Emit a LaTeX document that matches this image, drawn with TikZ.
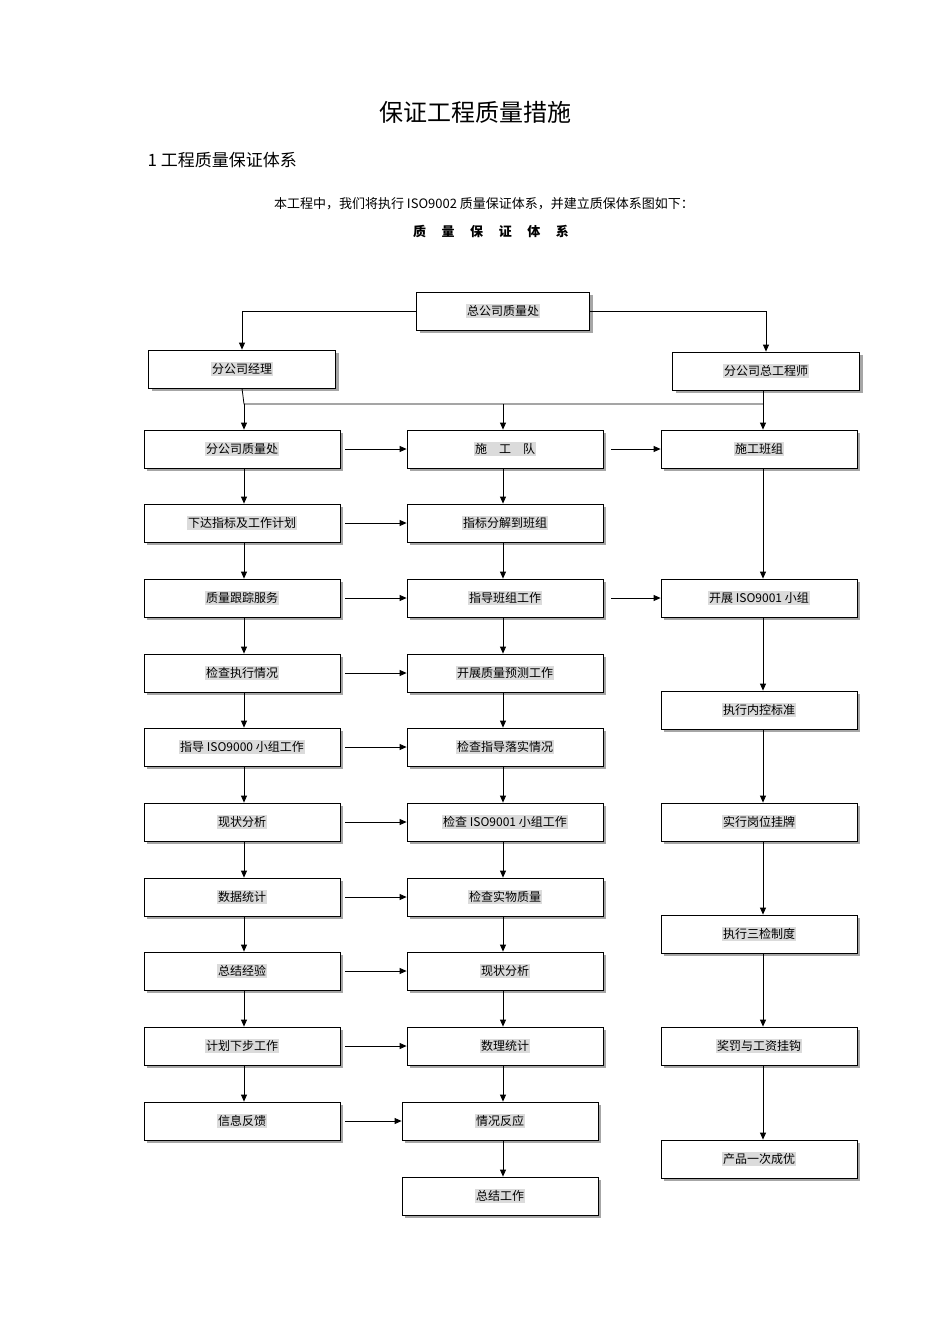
\documentclass[tikz,border=0pt]{standalone}
\usepackage{fontspec}
\setmainfont{Noto Sans CJK SC}
\usetikzlibrary{arrows.meta,shadows}
\definecolor{hl}{gray}{0.86}
\setlength{\fboxsep}{1pt}
\newcommand{\hb}[1]{\colorbox{hl}{#1}}
\begin{document}
\begin{tikzpicture}[x=1pt,y=-1pt,
  box/.style={draw,thick,fill=white,minimum height=38pt,font=\fontsize{12}{14}\selectfont,
    drop shadow={shadow xshift=3pt,shadow yshift=-3pt,fill=gray!70,opacity=1}},
  lb/.style={box,minimum width=196pt},
  ar/.style={-{Triangle[length=7pt,width=6pt]},thick}]
\useasboundingbox (0,0) rectangle (950,1344);
\node[font=\fontsize{24}{28}\selectfont] (t) at (475,112) {保证工程质量措施};
\node[font=\fontsize{17}{20}\selectfont,anchor=west] (h) at (144,160) {1 工程质量保证体系};
\node[font=\fontsize{13}{16}\selectfont] (p) at (484,204) {本工程中，我们将执行 ISO9002 质量保证体系，并建立质保体系图如下：};
\node[font=\fontsize{13}{16}\selectfont\bfseries] (s) at (491,231) {质\hspace{1.2em}量\hspace{1.2em}保\hspace{1.2em}证\hspace{1.2em}体\hspace{1.2em}系};

\node[box,minimum width=173pt] (top) at (503,311) {\hb{总公司质量处}};
\node[box,minimum width=187pt] (mgr) at (242,369) {\hb{分公司经理}};
\node[box,minimum width=187pt] (eng) at (766,371) {\hb{分公司总工程师}};

\foreach \n/\y/\t in {L1/449/分公司质量处,L2/523/下达指标及工作计划,L3/598/质量跟踪服务,L4/673/检查执行情况,L5/747/指导 ISO9000 小组工作,L6/822/现状分析,L7/897/数据统计,L8/971/总结经验,L9/1046/计划下步工作,L10/1121/信息反馈}
  \node[lb] (\n) at (242,\y) {\hb{\t}};
\foreach \n/\y/\t in {M1/449/施\quad 工\quad 队,M2/523/指标分解到班组,M3/598/指导班组工作,M4/673/开展质量预测工作,M5/747/检查指导落实情况,M6/822/检查 ISO9001 小组工作,M7/897/检查实物质量,M8/971/现状分析,M9/1046/数理统计}
  \node[lb] (\n) at (505,\y) {\hb{\t}};
\node[lb] (M10) at (500,1121) {\hb{情况反应}};
\node[lb] (M11) at (500,1196) {\hb{总结工作}};
\foreach \n/\y/\t in {R1/449/施工班组,R2/598/开展 ISO9001 小组,R3/710/执行内控标准,R4/822/实行岗位挂牌,R5/934/执行三检制度,R6/1046/奖罚与工资挂钩,R7/1159/产品一次成优}
  \node[lb] (\n) at (759,\y) {\hb{\t}};

\draw[ar] (top.west) -| (mgr.north);
\draw[ar] (top.east) -| (eng.north);
\coordinate (bl) at (244,404);
\coordinate (bm) at (503,404);
\coordinate (br) at (763,404);
\draw[thick] (mgr.south) -- (bl) -- (br);
\draw[ar] (eng.south -| br) -- (R1.north -| br);
\draw[ar] (bl) -- (L1.north -| bl);
\draw[ar] (bm) -- (M1.north -| bm);

\foreach \a/\b in {L1/L2,L2/L3,L3/L4,L4/L5,L5/L6,L6/L7,L7/L8,L8/L9,L9/L10}
  \draw[ar] (\a.south -| bl) -- (\b.north -| bl);
\foreach \a/\b in {M1/M2,M2/M3,M3/M4,M4/M5,M5/M6,M6/M7,M7/M8,M8/M9,M9/M10,M10/M11}
  \draw[ar] (\a.south -| bm) -- (\b.north -| bm);
\foreach \a/\b in {R1/R2,R2/R3,R3/R4,R4/R5,R5/R6,R6/R7}
  \draw[ar] (\a.south -| br) -- (\b.north -| br);
\foreach \i in {1,...,10}
  \draw[ar] ([xshift=5pt]L\i.east) -- (M\i.west |- L\i.east);
\draw[ar] ([xshift=8pt]M1.east) -- (R1.west);
\draw[ar] ([xshift=8pt]M3.east) -- (R2.west);
\end{tikzpicture}
\end{document}
